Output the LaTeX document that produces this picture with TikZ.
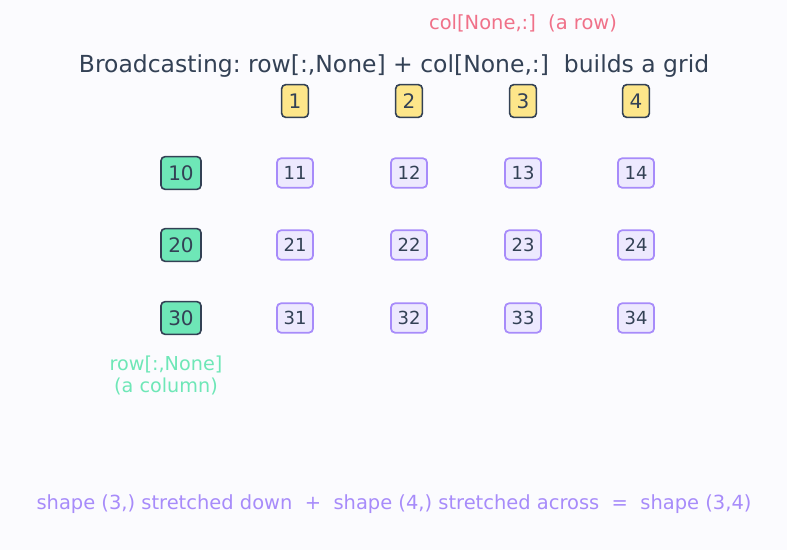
\documentclass[tikz,border=0pt]{standalone}
\usepackage{fontspec}
\setmainfont{DejaVu Sans}
\frenchspacing
\definecolor{bg}{HTML}{FBFBFE}
\definecolor{ink}{HTML}{334155}
\definecolor{yel}{HTML}{FDE68A}
\definecolor{grn}{HTML}{6EE7B7}
\definecolor{pfill}{HTML}{EDE9FE}
\definecolor{pline}{HTML}{A78BFA}
\definecolor{pink}{HTML}{F07189}
\definecolor{grntext}{HTML}{6EE7B7}
\tikzset{
  yelbox/.style={draw=ink, fill=yel, rounded corners=3pt, line width=1.2pt, minimum width=20pt, minimum height=24.5pt, inner sep=0pt, text=ink, font=\fontsize{15}{17}\selectfont},
  grnbox/.style={draw=ink, fill=grn, rounded corners=3pt, line width=1.2pt, minimum width=30pt, minimum height=24.5pt, inner sep=0pt, text=ink, font=\fontsize{15}{17}\selectfont},
  cellbox/.style={draw=pline, fill=pfill, rounded corners=3pt, line width=1.3pt, minimum width=27pt, minimum height=22pt, inner sep=0pt, text=ink, font=\fontsize{13.5}{15}\selectfont},
}
\begin{document}
\begin{tikzpicture}[x=0.75pt,y=-0.75pt]
\fill[bg] (0,0) rectangle (787,550);
\useasboundingbox (0,0) rectangle (787,550);
\node[text=pink, font=\fontsize{14.6}{17}\selectfont] (rowlbl) at (523,23) {col[None,:]\ \ (a row)};
\node[text=ink, font=\fontsize{17.6}{21}\selectfont] (title) at (394,66) {Broadcasting: row[:,None] + col[None,:]\ \ builds a grid};
\foreach \v/\x in {1/295,2/409,3/523,4/636}{
  \node[yelbox] (c\v) at (\x,101) {\v};
}
\foreach \r/\y in {1/173,2/245,3/318}{
  \node[grnbox] (r\r) at (181,\y) {\r0};
  \foreach \c/\x in {1/295,2/409,3/523,4/636}{
    \node[cellbox] (g\r\c) at (\x,\y) {\r\c};
  }
}
\node[text=grntext, font=\fontsize{14.4}{16}\selectfont, align=center] (collbl) at (166,375.5) {row[:,None]\\(a column)};
\node[text=pline, font=\fontsize{14.6}{17}\selectfont] (foot) at (394,504) {shape (3,) stretched down\ \ +\ \ shape (4,) stretched across\ \ =\ \ shape (3,4)};
\end{tikzpicture}
\end{document}
